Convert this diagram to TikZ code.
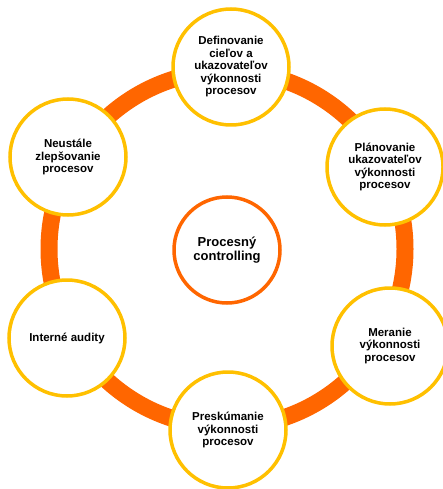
\documentclass[tikz,border=0pt]{standalone}
\usepackage{fontspec}
\setmainfont{Liberation Sans}
\definecolor{ringorange}{HTML}{FF6600}
\definecolor{ringgold}{HTML}{FFC000}

\begin{document}
\begin{tikzpicture}[%
            x=1pt, y=-1pt,
            myring/.style={draw=ringorange, line width=17pt},
            mystep/.style={shape=circle, draw=ringgold, line width=3.5pt, fill=white,
                minimum size=116pt, inner sep=0pt, align=center,
                font=\bfseries\fontsize{11.5}{12.5}\selectfont},
            mycenter/.style={shape=circle, draw=ringorange, line width=3.5pt, fill=white,
                minimum size=106pt, inner sep=0pt, align=center,
                font=\bfseries\fontsize{13}{13.5}\selectfont}
    ]
        \useasboundingbox (0,0) rectangle (443,489);

        % ring behind the steps
        \coordinate (ring) at (227,249);
        \draw [myring] (ring) circle [radius=178pt];

        \node [mycenter] (controlling) at (227,250) {Procesný\\controlling};

        \node [mystep] (ciele)    at (231,67)  {Definovanie\\cieľov a\\ukazovateľov\\výkonnosti\\procesov};
        \node [mystep] (planovanie) at (385,167) {Plánovanie\\ukazovateľov\\výkonnosti\\procesov};
        \node [mystep] (meranie)  at (390,346) {Meranie\\výkonnosti\\procesov};
        \node [mystep] (preskum)  at (228,430) {Preskúmanie\\výkonnosti\\procesov};
        \node [mystep] (audity)   at (67,338)  {Interné audity};
        \node [mystep] (zlepsenie) at (68,157) {Neustále\\zlepšovanie\\procesov};
    \end{tikzpicture}
\end{document}
